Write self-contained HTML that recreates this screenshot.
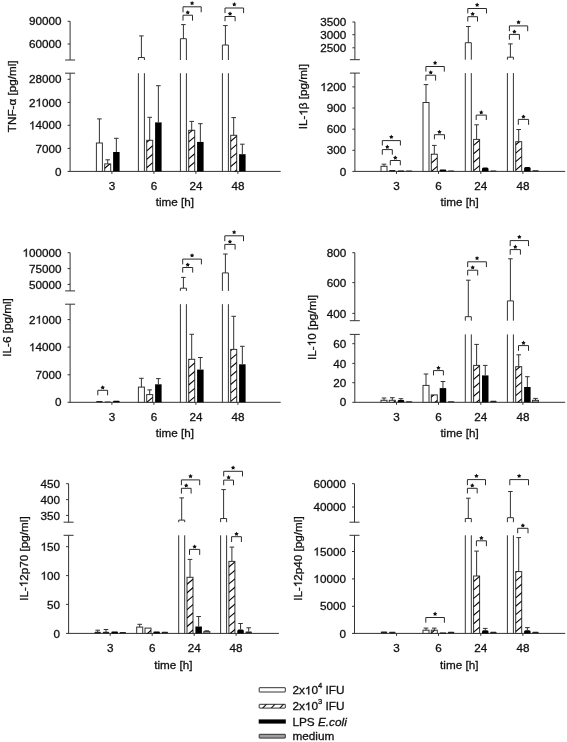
<!DOCTYPE html>
<html><head><meta charset="utf-8"><style>
html,body{margin:0;padding:0;background:#fff;overflow:hidden;width:567px;height:742px;}
svg{display:block;will-change:transform;font-family:"Liberation Sans",sans-serif;fill:#111;}
text{fill:#111;stroke:#111;stroke-width:0.3px;}
</style></head><body>
<svg width="567" height="742" viewBox="0 0 567 742">
<rect width="567" height="742" fill="#fff"/>
<line x1="70.10" y1="21.30" x2="70.10" y2="60.00" stroke="#333" stroke-width="1"/>
<line x1="70.10" y1="73.20" x2="70.10" y2="171.90" stroke="#333" stroke-width="1"/>
<line x1="65.10" y1="60.00" x2="75.10" y2="60.00" stroke="#333" stroke-width="1"/>
<line x1="65.10" y1="73.20" x2="75.10" y2="73.20" stroke="#333" stroke-width="1"/>
<line x1="70.10" y1="171.40" x2="280.70" y2="171.40" stroke="#333" stroke-width="1"/>
<line x1="67.60" y1="21.30" x2="70.10" y2="21.30" stroke="#333" stroke-width="1"/>
<text id="t1" x="61.50" y="25.40" text-anchor="end"  font-size="11.7">90000</text>
<line x1="67.60" y1="44.00" x2="70.10" y2="44.00" stroke="#333" stroke-width="1"/>
<text id="t2" x="61.50" y="48.10" text-anchor="end"  font-size="11.7">60000</text>
<line x1="67.60" y1="79.30" x2="70.10" y2="79.30" stroke="#333" stroke-width="1"/>
<text id="t3" x="61.50" y="83.40" text-anchor="end"  font-size="11.7">28000</text>
<line x1="67.60" y1="102.40" x2="70.10" y2="102.40" stroke="#333" stroke-width="1"/>
<text id="t4" x="61.50" y="106.50" text-anchor="end"  font-size="11.7">2 000</text>
<path d="M762,0H582V1102C539,1063 482,1024 410,982C340,943 276,911 221,892V1059C321,1105 410,1159 485,1224C561,1289 614,1352 645,1409H762Z" transform="translate(35.48,106.50) scale(0.00571,-0.00571)" fill="#111" stroke="#111" stroke-width="0.3" vector-effect="non-scaling-stroke"/>
<line x1="67.60" y1="125.30" x2="70.10" y2="125.30" stroke="#333" stroke-width="1"/>
<text id="t5" x="61.50" y="129.40" text-anchor="end"  font-size="11.7"> 4000</text>
<path d="M762,0H582V1102C539,1063 482,1024 410,982C340,943 276,911 221,892V1059C321,1105 410,1159 485,1224C561,1289 614,1352 645,1409H762Z" transform="translate(28.98,129.40) scale(0.00571,-0.00571)" fill="#111" stroke="#111" stroke-width="0.3" vector-effect="non-scaling-stroke"/>
<line x1="67.60" y1="148.40" x2="70.10" y2="148.40" stroke="#333" stroke-width="1"/>
<text id="t6" x="61.50" y="152.50" text-anchor="end"  font-size="11.7">7000</text>
<line x1="67.60" y1="171.40" x2="70.10" y2="171.40" stroke="#333" stroke-width="1"/>
<text id="t7" x="61.50" y="175.50" text-anchor="end"  font-size="11.7">0</text>
<line x1="111.90" y1="171.40" x2="111.90" y2="173.90" stroke="#333" stroke-width="1"/>
<text id="t8" x="111.90" y="189.60" text-anchor="middle"  font-size="11.7">3</text>
<line x1="153.90" y1="171.40" x2="153.90" y2="173.90" stroke="#333" stroke-width="1"/>
<text id="t9" x="153.90" y="189.60" text-anchor="middle"  font-size="11.7">6</text>
<line x1="195.90" y1="171.40" x2="195.90" y2="173.90" stroke="#333" stroke-width="1"/>
<text id="t10" x="195.90" y="189.60" text-anchor="middle"  font-size="11.7">24</text>
<line x1="237.90" y1="171.40" x2="237.90" y2="173.90" stroke="#333" stroke-width="1"/>
<text id="t11" x="237.90" y="189.60" text-anchor="middle"  font-size="11.7">48</text>
<text id="t12" x="174.85" y="205.70" text-anchor="middle"  font-size="11.7">time [h]</text>
<g transform="translate(16.40,96.35) rotate(-90)">
<text id="t13" x="0" y="0" text-anchor="middle" font-size="11.7">TNF-α [pg/ml]</text>
</g>
<rect x="96.40" y="143.00" width="6.00" height="28.40" fill="#fff" stroke="#333" stroke-width="1"/>
<line x1="99.40" y1="143.00" x2="99.40" y2="118.90" stroke="#333" stroke-width="1"/>
<line x1="97.10" y1="118.90" x2="101.70" y2="118.90" stroke="#333" stroke-width="1"/>
<rect x="104.70" y="163.90" width="6.00" height="7.50" fill="#fff" stroke="#333" stroke-width="1"/>
<clipPath id="c1"><rect x="104.70" y="163.90" width="6.00" height="7.50"/></clipPath>
<g clip-path="url(#c1)">
<line x1="104.40" y1="168.50" x2="111.00" y2="162.90" stroke="#000" stroke-width="1.1"/>
<line x1="104.40" y1="160.05" x2="111.00" y2="154.45" stroke="#000" stroke-width="1.1"/>
</g>
<line x1="107.70" y1="163.90" x2="107.70" y2="159.80" stroke="#333" stroke-width="1"/>
<line x1="105.40" y1="159.80" x2="110.00" y2="159.80" stroke="#333" stroke-width="1"/>
<rect x="113.10" y="152.00" width="6.50" height="19.40" fill="#000"/>
<line x1="116.35" y1="152.00" x2="116.35" y2="138.30" stroke="#333" stroke-width="1"/>
<line x1="114.05" y1="138.30" x2="118.65" y2="138.30" stroke="#333" stroke-width="1"/>
<line x1="138.40" y1="171.40" x2="138.40" y2="73.20" stroke="#333" stroke-width="1"/>
<line x1="144.40" y1="171.40" x2="144.40" y2="73.20" stroke="#333" stroke-width="1"/>
<path d="M138.40,60.00 V57.50 H144.40 V60.00" fill="#fff" stroke="#333" stroke-width="1"/>
<line x1="141.40" y1="57.50" x2="141.40" y2="35.90" stroke="#333" stroke-width="1"/>
<line x1="139.10" y1="35.90" x2="143.70" y2="35.90" stroke="#333" stroke-width="1"/>
<rect x="146.70" y="140.30" width="6.00" height="31.10" fill="#fff" stroke="#333" stroke-width="1"/>
<clipPath id="c2"><rect x="146.70" y="140.30" width="6.00" height="31.10"/></clipPath>
<g clip-path="url(#c2)">
<line x1="146.40" y1="168.00" x2="153.00" y2="162.40" stroke="#000" stroke-width="1.1"/>
<line x1="146.40" y1="159.55" x2="153.00" y2="153.95" stroke="#000" stroke-width="1.1"/>
<line x1="146.40" y1="151.10" x2="153.00" y2="145.50" stroke="#000" stroke-width="1.1"/>
<line x1="146.40" y1="142.65" x2="153.00" y2="137.05" stroke="#000" stroke-width="1.1"/>
</g>
<line x1="149.70" y1="140.30" x2="149.70" y2="117.30" stroke="#333" stroke-width="1"/>
<line x1="147.40" y1="117.30" x2="152.00" y2="117.30" stroke="#333" stroke-width="1"/>
<rect x="155.10" y="122.40" width="6.50" height="49.00" fill="#000"/>
<line x1="158.35" y1="122.40" x2="158.35" y2="85.70" stroke="#333" stroke-width="1"/>
<line x1="156.05" y1="85.70" x2="160.65" y2="85.70" stroke="#333" stroke-width="1"/>
<line x1="180.40" y1="171.40" x2="180.40" y2="73.20" stroke="#333" stroke-width="1"/>
<line x1="186.40" y1="171.40" x2="186.40" y2="73.20" stroke="#333" stroke-width="1"/>
<path d="M180.40,60.00 V38.70 H186.40 V60.00" fill="#fff" stroke="#333" stroke-width="1"/>
<line x1="183.40" y1="38.70" x2="183.40" y2="24.60" stroke="#333" stroke-width="1"/>
<line x1="181.10" y1="24.60" x2="185.70" y2="24.60" stroke="#333" stroke-width="1"/>
<rect x="188.70" y="130.30" width="6.00" height="41.10" fill="#fff" stroke="#333" stroke-width="1"/>
<clipPath id="c3"><rect x="188.70" y="130.30" width="6.00" height="41.10"/></clipPath>
<g clip-path="url(#c3)">
<line x1="188.40" y1="167.50" x2="195.00" y2="161.90" stroke="#000" stroke-width="1.1"/>
<line x1="188.40" y1="159.05" x2="195.00" y2="153.45" stroke="#000" stroke-width="1.1"/>
<line x1="188.40" y1="150.60" x2="195.00" y2="145.00" stroke="#000" stroke-width="1.1"/>
<line x1="188.40" y1="142.15" x2="195.00" y2="136.55" stroke="#000" stroke-width="1.1"/>
<line x1="188.40" y1="133.70" x2="195.00" y2="128.10" stroke="#000" stroke-width="1.1"/>
<line x1="188.40" y1="125.25" x2="195.00" y2="119.65" stroke="#000" stroke-width="1.1"/>
</g>
<line x1="191.70" y1="130.30" x2="191.70" y2="121.40" stroke="#333" stroke-width="1"/>
<line x1="189.40" y1="121.40" x2="194.00" y2="121.40" stroke="#333" stroke-width="1"/>
<rect x="197.10" y="141.90" width="6.50" height="29.50" fill="#000"/>
<line x1="200.35" y1="141.90" x2="200.35" y2="123.70" stroke="#333" stroke-width="1"/>
<line x1="198.05" y1="123.70" x2="202.65" y2="123.70" stroke="#333" stroke-width="1"/>
<line x1="222.40" y1="171.40" x2="222.40" y2="73.20" stroke="#333" stroke-width="1"/>
<line x1="228.40" y1="171.40" x2="228.40" y2="73.20" stroke="#333" stroke-width="1"/>
<path d="M222.40,60.00 V45.00 H228.40 V60.00" fill="#fff" stroke="#333" stroke-width="1"/>
<line x1="225.40" y1="45.00" x2="225.40" y2="25.60" stroke="#333" stroke-width="1"/>
<line x1="223.10" y1="25.60" x2="227.70" y2="25.60" stroke="#333" stroke-width="1"/>
<rect x="230.70" y="135.30" width="6.00" height="36.10" fill="#fff" stroke="#333" stroke-width="1"/>
<clipPath id="c4"><rect x="230.70" y="135.30" width="6.00" height="36.10"/></clipPath>
<g clip-path="url(#c4)">
<line x1="230.40" y1="175.30" x2="237.00" y2="169.70" stroke="#000" stroke-width="1.1"/>
<line x1="230.40" y1="166.85" x2="237.00" y2="161.25" stroke="#000" stroke-width="1.1"/>
<line x1="230.40" y1="158.40" x2="237.00" y2="152.80" stroke="#000" stroke-width="1.1"/>
<line x1="230.40" y1="149.95" x2="237.00" y2="144.35" stroke="#000" stroke-width="1.1"/>
<line x1="230.40" y1="141.50" x2="237.00" y2="135.90" stroke="#000" stroke-width="1.1"/>
<line x1="230.40" y1="133.05" x2="237.00" y2="127.45" stroke="#000" stroke-width="1.1"/>
</g>
<line x1="233.70" y1="135.30" x2="233.70" y2="117.60" stroke="#333" stroke-width="1"/>
<line x1="231.40" y1="117.60" x2="236.00" y2="117.60" stroke="#333" stroke-width="1"/>
<rect x="239.10" y="154.20" width="6.50" height="17.20" fill="#000"/>
<line x1="242.35" y1="154.20" x2="242.35" y2="144.20" stroke="#333" stroke-width="1"/>
<line x1="240.05" y1="144.20" x2="244.65" y2="144.20" stroke="#333" stroke-width="1"/>
<path d="M183.00,20.60 V15.20 H192.50 V20.60" fill="none" stroke="#2a2a2a" stroke-width="1"/>
<polygon points="187.75,10.20 188.49,11.48 189.94,11.79 188.95,12.89 189.10,14.36 187.75,13.77 186.40,14.36 186.55,12.89 185.56,11.79 187.01,11.48" fill="#111"/>
<path d="M183.00,12.30 V6.80 H201.20 V12.30" fill="none" stroke="#2a2a2a" stroke-width="1"/>
<polygon points="192.10,0.90 192.84,2.18 194.29,2.49 193.30,3.59 193.45,5.06 192.10,4.46 190.75,5.06 190.90,3.59 189.91,2.49 191.36,2.18" fill="#111"/>
<path d="M225.00,21.20 V16.50 H235.10 V21.20" fill="none" stroke="#2a2a2a" stroke-width="1"/>
<polygon points="230.05,11.50 230.79,12.78 232.24,13.09 231.25,14.19 231.40,15.66 230.05,15.07 228.70,15.66 228.85,14.19 227.86,13.09 229.31,12.78" fill="#111"/>
<path d="M225.00,13.10 V8.00 H243.60 V13.10" fill="none" stroke="#2a2a2a" stroke-width="1"/>
<polygon points="234.30,2.10 235.04,3.38 236.49,3.69 235.50,4.79 235.65,6.26 234.30,5.67 232.95,6.26 233.10,4.79 232.11,3.69 233.56,3.38" fill="#111"/>
<line x1="354.90" y1="22.00" x2="354.90" y2="59.70" stroke="#333" stroke-width="1"/>
<line x1="354.90" y1="73.10" x2="354.90" y2="171.90" stroke="#333" stroke-width="1"/>
<line x1="349.90" y1="59.70" x2="359.90" y2="59.70" stroke="#333" stroke-width="1"/>
<line x1="349.90" y1="73.10" x2="359.90" y2="73.10" stroke="#333" stroke-width="1"/>
<line x1="354.90" y1="171.40" x2="565.20" y2="171.40" stroke="#333" stroke-width="1"/>
<line x1="352.40" y1="22.00" x2="354.90" y2="22.00" stroke="#333" stroke-width="1"/>
<text id="t14" x="346.30" y="26.10" text-anchor="end"  font-size="11.7">3500</text>
<line x1="352.40" y1="34.70" x2="354.90" y2="34.70" stroke="#333" stroke-width="1"/>
<text id="t15" x="346.30" y="38.80" text-anchor="end"  font-size="11.7">3000</text>
<line x1="352.40" y1="47.80" x2="354.90" y2="47.80" stroke="#333" stroke-width="1"/>
<text id="t16" x="346.30" y="51.90" text-anchor="end"  font-size="11.7">2500</text>
<line x1="352.40" y1="86.90" x2="354.90" y2="86.90" stroke="#333" stroke-width="1"/>
<text id="t17" x="346.30" y="91.00" text-anchor="end"  font-size="11.7"> 200</text>
<path d="M762,0H582V1102C539,1063 482,1024 410,982C340,943 276,911 221,892V1059C321,1105 410,1159 485,1224C561,1289 614,1352 645,1409H762Z" transform="translate(320.28,91.00) scale(0.00571,-0.00571)" fill="#111" stroke="#111" stroke-width="0.3" vector-effect="non-scaling-stroke"/>
<line x1="352.40" y1="108.00" x2="354.90" y2="108.00" stroke="#333" stroke-width="1"/>
<text id="t18" x="346.30" y="112.10" text-anchor="end"  font-size="11.7">900</text>
<line x1="352.40" y1="129.20" x2="354.90" y2="129.20" stroke="#333" stroke-width="1"/>
<text id="t19" x="346.30" y="133.30" text-anchor="end"  font-size="11.7">600</text>
<line x1="352.40" y1="150.30" x2="354.90" y2="150.30" stroke="#333" stroke-width="1"/>
<text id="t20" x="346.30" y="154.40" text-anchor="end"  font-size="11.7">300</text>
<line x1="352.40" y1="171.40" x2="354.90" y2="171.40" stroke="#333" stroke-width="1"/>
<text id="t21" x="346.30" y="175.50" text-anchor="end"  font-size="11.7">0</text>
<line x1="396.50" y1="171.40" x2="396.50" y2="173.90" stroke="#333" stroke-width="1"/>
<text id="t22" x="396.50" y="189.60" text-anchor="middle"  font-size="11.7">3</text>
<line x1="438.50" y1="171.40" x2="438.50" y2="173.90" stroke="#333" stroke-width="1"/>
<text id="t23" x="438.50" y="189.60" text-anchor="middle"  font-size="11.7">6</text>
<line x1="480.80" y1="171.40" x2="480.80" y2="173.90" stroke="#333" stroke-width="1"/>
<text id="t24" x="480.80" y="189.60" text-anchor="middle"  font-size="11.7">24</text>
<line x1="522.90" y1="171.40" x2="522.90" y2="173.90" stroke="#333" stroke-width="1"/>
<text id="t25" x="522.90" y="189.60" text-anchor="middle"  font-size="11.7">48</text>
<text id="t26" x="459.65" y="205.60" text-anchor="middle"  font-size="11.7">time [h]</text>
<g transform="translate(307.40,96.70) rotate(-90)">
<text id="t27" x="0" y="0" text-anchor="middle" font-size="11.7">IL- β [pg/ml]</text>
<path d="M762,0H582V1102C539,1063 482,1024 410,982C340,943 276,911 221,892V1059C321,1105 410,1159 485,1224C561,1289 614,1352 645,1409H762Z" transform="translate(-18.97,0.00) scale(0.00571,-0.00571)" fill="#111" stroke="#111" stroke-width="0.3" vector-effect="non-scaling-stroke"/>
</g>
<rect x="381.00" y="166.30" width="6.00" height="5.10" fill="#fff" stroke="#333" stroke-width="1"/>
<line x1="384.00" y1="166.30" x2="384.00" y2="164.20" stroke="#333" stroke-width="1"/>
<line x1="381.70" y1="164.20" x2="386.30" y2="164.20" stroke="#333" stroke-width="1"/>
<rect x="389.10" y="170.10" width="6.40" height="1.30" rx="0.8" fill="#222"/>
<path d="M397.70,171.40 V171.00 Q397.70,170.60 398.10,170.60 H403.80 Q404.20,170.60 404.20,171.00 V171.40 Z" fill="#000"/>
<rect x="405.90" y="170.60" width="6.40" height="0.80" rx="0.8" fill="#222"/>
<rect x="423.00" y="102.50" width="6.00" height="68.90" fill="#fff" stroke="#333" stroke-width="1"/>
<line x1="426.00" y1="102.50" x2="426.00" y2="84.60" stroke="#333" stroke-width="1"/>
<line x1="423.70" y1="84.60" x2="428.30" y2="84.60" stroke="#333" stroke-width="1"/>
<rect x="431.30" y="154.20" width="6.00" height="17.20" fill="#fff" stroke="#333" stroke-width="1"/>
<clipPath id="c5"><rect x="431.30" y="154.20" width="6.00" height="17.20"/></clipPath>
<g clip-path="url(#c5)">
<line x1="431.00" y1="171.75" x2="437.60" y2="166.15" stroke="#000" stroke-width="1.1"/>
<line x1="431.00" y1="163.30" x2="437.60" y2="157.70" stroke="#000" stroke-width="1.1"/>
<line x1="431.00" y1="154.85" x2="437.60" y2="149.25" stroke="#000" stroke-width="1.1"/>
</g>
<line x1="434.30" y1="154.20" x2="434.30" y2="145.40" stroke="#333" stroke-width="1"/>
<line x1="432.00" y1="145.40" x2="436.60" y2="145.40" stroke="#333" stroke-width="1"/>
<path d="M439.70,171.40 V170.45 Q439.70,169.50 440.65,169.50 H445.25 Q446.20,169.50 446.20,170.45 V171.40 Z" fill="#000"/>
<rect x="447.90" y="170.60" width="6.40" height="0.80" rx="0.8" fill="#222"/>
<line x1="465.30" y1="171.40" x2="465.30" y2="73.10" stroke="#333" stroke-width="1"/>
<line x1="471.30" y1="171.40" x2="471.30" y2="73.10" stroke="#333" stroke-width="1"/>
<path d="M465.30,59.70 V42.70 H471.30 V59.70" fill="#fff" stroke="#333" stroke-width="1"/>
<line x1="468.30" y1="42.70" x2="468.30" y2="26.50" stroke="#333" stroke-width="1"/>
<line x1="466.00" y1="26.50" x2="470.60" y2="26.50" stroke="#333" stroke-width="1"/>
<rect x="473.60" y="139.40" width="6.00" height="32.00" fill="#fff" stroke="#333" stroke-width="1"/>
<clipPath id="c6"><rect x="473.60" y="139.40" width="6.00" height="32.00"/></clipPath>
<g clip-path="url(#c6)">
<line x1="473.30" y1="170.95" x2="479.90" y2="165.35" stroke="#000" stroke-width="1.1"/>
<line x1="473.30" y1="162.50" x2="479.90" y2="156.90" stroke="#000" stroke-width="1.1"/>
<line x1="473.30" y1="154.05" x2="479.90" y2="148.45" stroke="#000" stroke-width="1.1"/>
<line x1="473.30" y1="145.60" x2="479.90" y2="140.00" stroke="#000" stroke-width="1.1"/>
<line x1="473.30" y1="137.15" x2="479.90" y2="131.55" stroke="#000" stroke-width="1.1"/>
</g>
<line x1="476.60" y1="139.40" x2="476.60" y2="124.80" stroke="#333" stroke-width="1"/>
<line x1="474.30" y1="124.80" x2="478.90" y2="124.80" stroke="#333" stroke-width="1"/>
<path d="M482.00,171.40 V169.00 Q482.00,167.50 483.50,167.50 H487.00 Q488.50,167.50 488.50,169.00 V171.40 Z" fill="#000"/>
<rect x="490.20" y="170.60" width="6.40" height="0.80" rx="0.8" fill="#222"/>
<line x1="507.40" y1="171.40" x2="507.40" y2="73.10" stroke="#333" stroke-width="1"/>
<line x1="513.40" y1="171.40" x2="513.40" y2="73.10" stroke="#333" stroke-width="1"/>
<path d="M507.40,59.70 V57.20 H513.40 V59.70" fill="#fff" stroke="#333" stroke-width="1"/>
<line x1="510.40" y1="57.20" x2="510.40" y2="43.90" stroke="#333" stroke-width="1"/>
<line x1="508.10" y1="43.90" x2="512.70" y2="43.90" stroke="#333" stroke-width="1"/>
<rect x="515.70" y="141.70" width="6.00" height="29.70" fill="#fff" stroke="#333" stroke-width="1"/>
<clipPath id="c7"><rect x="515.70" y="141.70" width="6.00" height="29.70"/></clipPath>
<g clip-path="url(#c7)">
<line x1="515.40" y1="170.35" x2="522.00" y2="164.75" stroke="#000" stroke-width="1.1"/>
<line x1="515.40" y1="161.90" x2="522.00" y2="156.30" stroke="#000" stroke-width="1.1"/>
<line x1="515.40" y1="153.45" x2="522.00" y2="147.85" stroke="#000" stroke-width="1.1"/>
<line x1="515.40" y1="145.00" x2="522.00" y2="139.40" stroke="#000" stroke-width="1.1"/>
<line x1="515.40" y1="136.55" x2="522.00" y2="130.95" stroke="#000" stroke-width="1.1"/>
</g>
<line x1="518.70" y1="141.70" x2="518.70" y2="129.50" stroke="#333" stroke-width="1"/>
<line x1="516.40" y1="129.50" x2="521.00" y2="129.50" stroke="#333" stroke-width="1"/>
<path d="M524.10,171.40 V168.50 Q524.10,167.00 525.60,167.00 H529.10 Q530.60,167.00 530.60,168.50 V171.40 Z" fill="#000"/>
<rect x="532.30" y="170.30" width="6.40" height="1.10" rx="0.8" fill="#222"/>
<path d="M382.30,145.50 V140.60 H400.40 V145.50" fill="none" stroke="#2a2a2a" stroke-width="1"/>
<polygon points="391.35,134.70 392.09,135.98 393.54,136.29 392.55,137.39 392.70,138.86 391.35,138.26 390.00,138.86 390.15,137.39 389.16,136.29 390.61,135.98" fill="#111"/>
<path d="M382.30,154.70 V149.60 H392.30 V154.70" fill="none" stroke="#2a2a2a" stroke-width="1"/>
<polygon points="387.30,144.60 388.04,145.88 389.49,146.19 388.50,147.29 388.65,148.76 387.30,148.16 385.95,148.76 386.10,147.29 385.11,146.19 386.56,145.88" fill="#111"/>
<path d="M390.30,165.30 V160.50 H400.30 V165.30" fill="none" stroke="#2a2a2a" stroke-width="1"/>
<polygon points="395.30,155.50 396.04,156.78 397.49,157.09 396.50,158.19 396.65,159.66 395.30,159.06 393.95,159.66 394.10,158.19 393.11,157.09 394.56,156.78" fill="#111"/>
<path d="M425.90,80.60 V75.20 H435.60 V80.60" fill="none" stroke="#2a2a2a" stroke-width="1"/>
<polygon points="430.75,70.20 431.49,71.48 432.94,71.79 431.95,72.89 432.10,74.36 430.75,73.77 429.40,74.36 429.55,72.89 428.56,71.79 430.01,71.48" fill="#111"/>
<path d="M425.90,71.60 V66.50 H444.30 V71.60" fill="none" stroke="#2a2a2a" stroke-width="1"/>
<polygon points="435.10,60.60 435.84,61.88 437.29,62.19 436.30,63.29 436.45,64.76 435.10,64.16 433.75,64.76 433.90,63.29 432.91,62.19 434.36,61.88" fill="#111"/>
<path d="M434.40,139.30 V134.70 H444.50 V139.30" fill="none" stroke="#2a2a2a" stroke-width="1"/>
<polygon points="439.45,129.70 440.19,130.98 441.64,131.29 440.65,132.39 440.80,133.86 439.45,133.26 438.10,133.86 438.25,132.39 437.26,131.29 438.71,130.98" fill="#111"/>
<path d="M467.80,21.50 V16.70 H477.50 V21.50" fill="none" stroke="#2a2a2a" stroke-width="1"/>
<polygon points="472.65,11.70 473.39,12.98 474.84,13.29 473.85,14.39 474.00,15.86 472.65,15.27 471.30,15.86 471.45,14.39 470.46,13.29 471.91,12.98" fill="#111"/>
<path d="M467.80,13.40 V8.50 H486.50 V13.40" fill="none" stroke="#2a2a2a" stroke-width="1"/>
<polygon points="477.15,2.60 477.89,3.88 479.34,4.19 478.35,5.29 478.50,6.76 477.15,6.17 475.80,6.76 475.95,5.29 474.96,4.19 476.41,3.88" fill="#111"/>
<path d="M476.20,120.00 V115.10 H486.30 V120.00" fill="none" stroke="#2a2a2a" stroke-width="1"/>
<polygon points="481.25,110.10 481.99,111.38 483.44,111.69 482.45,112.79 482.60,114.26 481.25,113.66 479.90,114.26 480.05,112.79 479.06,111.69 480.51,111.38" fill="#111"/>
<path d="M509.40,39.70 V34.40 H519.40 V39.70" fill="none" stroke="#2a2a2a" stroke-width="1"/>
<polygon points="514.40,29.40 515.14,30.68 516.59,30.99 515.60,32.09 515.75,33.56 514.40,32.96 513.05,33.56 513.20,32.09 512.21,30.99 513.66,30.68" fill="#111"/>
<path d="M509.40,31.20 V25.90 H527.70 V31.20" fill="none" stroke="#2a2a2a" stroke-width="1"/>
<polygon points="518.55,20.00 519.29,21.28 520.74,21.59 519.75,22.69 519.90,24.16 518.55,23.56 517.20,24.16 517.35,22.69 516.36,21.59 517.81,21.28" fill="#111"/>
<path d="M518.30,124.80 V119.40 H528.60 V124.80" fill="none" stroke="#2a2a2a" stroke-width="1"/>
<polygon points="523.45,114.40 524.19,115.68 525.64,115.99 524.65,117.09 524.80,118.56 523.45,117.97 522.10,118.56 522.25,117.09 521.26,115.99 522.71,115.68" fill="#111"/>
<line x1="70.10" y1="252.70" x2="70.10" y2="290.90" stroke="#333" stroke-width="1"/>
<line x1="70.10" y1="304.20" x2="70.10" y2="402.80" stroke="#333" stroke-width="1"/>
<line x1="65.10" y1="290.90" x2="75.10" y2="290.90" stroke="#333" stroke-width="1"/>
<line x1="65.10" y1="304.20" x2="75.10" y2="304.20" stroke="#333" stroke-width="1"/>
<line x1="70.10" y1="402.30" x2="280.70" y2="402.30" stroke="#333" stroke-width="1"/>
<line x1="67.60" y1="252.70" x2="70.10" y2="252.70" stroke="#333" stroke-width="1"/>
<text id="t28" x="61.50" y="256.80" text-anchor="end"  font-size="11.7"> 00000</text>
<path d="M762,0H582V1102C539,1063 482,1024 410,982C340,943 276,911 221,892V1059C321,1105 410,1159 485,1224C561,1289 614,1352 645,1409H762Z" transform="translate(22.48,256.80) scale(0.00571,-0.00571)" fill="#111" stroke="#111" stroke-width="0.3" vector-effect="non-scaling-stroke"/>
<line x1="67.60" y1="268.60" x2="70.10" y2="268.60" stroke="#333" stroke-width="1"/>
<text id="t29" x="61.50" y="272.70" text-anchor="end"  font-size="11.7">75000</text>
<line x1="67.60" y1="284.40" x2="70.10" y2="284.40" stroke="#333" stroke-width="1"/>
<text id="t30" x="61.50" y="288.50" text-anchor="end"  font-size="11.7">50000</text>
<line x1="67.60" y1="319.60" x2="70.10" y2="319.60" stroke="#333" stroke-width="1"/>
<text id="t31" x="61.50" y="323.70" text-anchor="end"  font-size="11.7">2 000</text>
<path d="M762,0H582V1102C539,1063 482,1024 410,982C340,943 276,911 221,892V1059C321,1105 410,1159 485,1224C561,1289 614,1352 645,1409H762Z" transform="translate(35.48,323.70) scale(0.00571,-0.00571)" fill="#111" stroke="#111" stroke-width="0.3" vector-effect="non-scaling-stroke"/>
<line x1="67.60" y1="347.10" x2="70.10" y2="347.10" stroke="#333" stroke-width="1"/>
<text id="t32" x="61.50" y="351.20" text-anchor="end"  font-size="11.7"> 4000</text>
<path d="M762,0H582V1102C539,1063 482,1024 410,982C340,943 276,911 221,892V1059C321,1105 410,1159 485,1224C561,1289 614,1352 645,1409H762Z" transform="translate(28.98,351.20) scale(0.00571,-0.00571)" fill="#111" stroke="#111" stroke-width="0.3" vector-effect="non-scaling-stroke"/>
<line x1="67.60" y1="374.80" x2="70.10" y2="374.80" stroke="#333" stroke-width="1"/>
<text id="t33" x="61.50" y="378.90" text-anchor="end"  font-size="11.7">7000</text>
<line x1="67.60" y1="402.30" x2="70.10" y2="402.30" stroke="#333" stroke-width="1"/>
<text id="t34" x="61.50" y="406.40" text-anchor="end"  font-size="11.7">0</text>
<line x1="111.90" y1="402.30" x2="111.90" y2="404.80" stroke="#333" stroke-width="1"/>
<text id="t35" x="111.90" y="420.50" text-anchor="middle"  font-size="11.7">3</text>
<line x1="153.90" y1="402.30" x2="153.90" y2="404.80" stroke="#333" stroke-width="1"/>
<text id="t36" x="153.90" y="420.50" text-anchor="middle"  font-size="11.7">6</text>
<line x1="195.90" y1="402.30" x2="195.90" y2="404.80" stroke="#333" stroke-width="1"/>
<text id="t37" x="195.90" y="420.50" text-anchor="middle"  font-size="11.7">24</text>
<line x1="237.90" y1="402.30" x2="237.90" y2="404.80" stroke="#333" stroke-width="1"/>
<text id="t38" x="237.90" y="420.50" text-anchor="middle"  font-size="11.7">48</text>
<text id="t39" x="174.85" y="437.30" text-anchor="middle"  font-size="11.7">time [h]</text>
<g transform="translate(10.50,327.50) rotate(-90)">
<text id="t40" x="0" y="0" text-anchor="middle" font-size="11.7">IL-6 [pg/ml]</text>
</g>
<rect x="96.20" y="401.00" width="6.40" height="1.30" rx="0.8" fill="#222"/>
<rect x="104.50" y="401.50" width="6.40" height="0.80" rx="0.8" fill="#222"/>
<path d="M113.10,402.30 V401.55 Q113.10,400.80 113.85,400.80 H118.85 Q119.60,400.80 119.60,401.55 V402.30 Z" fill="#000"/>
<rect x="138.40" y="387.10" width="6.00" height="15.20" fill="#fff" stroke="#333" stroke-width="1"/>
<line x1="141.40" y1="387.10" x2="141.40" y2="378.30" stroke="#333" stroke-width="1"/>
<line x1="139.10" y1="378.30" x2="143.70" y2="378.30" stroke="#333" stroke-width="1"/>
<rect x="146.70" y="394.60" width="6.00" height="7.70" fill="#fff" stroke="#333" stroke-width="1"/>
<clipPath id="c8"><rect x="146.70" y="394.60" width="6.00" height="7.70"/></clipPath>
<g clip-path="url(#c8)">
<line x1="146.40" y1="402.65" x2="153.00" y2="397.05" stroke="#000" stroke-width="1.1"/>
<line x1="146.40" y1="394.20" x2="153.00" y2="388.60" stroke="#000" stroke-width="1.1"/>
</g>
<line x1="149.70" y1="394.60" x2="149.70" y2="389.90" stroke="#333" stroke-width="1"/>
<line x1="147.40" y1="389.90" x2="152.00" y2="389.90" stroke="#333" stroke-width="1"/>
<rect x="155.10" y="384.30" width="6.50" height="18.00" fill="#000"/>
<line x1="158.35" y1="384.30" x2="158.35" y2="378.60" stroke="#333" stroke-width="1"/>
<line x1="156.05" y1="378.60" x2="160.65" y2="378.60" stroke="#333" stroke-width="1"/>
<line x1="180.40" y1="402.30" x2="180.40" y2="304.20" stroke="#333" stroke-width="1"/>
<line x1="186.40" y1="402.30" x2="186.40" y2="304.20" stroke="#333" stroke-width="1"/>
<path d="M180.40,290.90 V288.20 H186.40 V290.90" fill="#fff" stroke="#333" stroke-width="1"/>
<line x1="183.40" y1="288.20" x2="183.40" y2="277.40" stroke="#333" stroke-width="1"/>
<line x1="181.10" y1="277.40" x2="185.70" y2="277.40" stroke="#333" stroke-width="1"/>
<rect x="188.70" y="359.30" width="6.00" height="43.00" fill="#fff" stroke="#333" stroke-width="1"/>
<clipPath id="c9"><rect x="188.70" y="359.30" width="6.00" height="43.00"/></clipPath>
<g clip-path="url(#c9)">
<line x1="188.40" y1="402.15" x2="195.00" y2="396.55" stroke="#000" stroke-width="1.1"/>
<line x1="188.40" y1="393.70" x2="195.00" y2="388.10" stroke="#000" stroke-width="1.1"/>
<line x1="188.40" y1="385.25" x2="195.00" y2="379.65" stroke="#000" stroke-width="1.1"/>
<line x1="188.40" y1="376.80" x2="195.00" y2="371.20" stroke="#000" stroke-width="1.1"/>
<line x1="188.40" y1="368.35" x2="195.00" y2="362.75" stroke="#000" stroke-width="1.1"/>
<line x1="188.40" y1="359.90" x2="195.00" y2="354.30" stroke="#000" stroke-width="1.1"/>
</g>
<line x1="191.70" y1="359.30" x2="191.70" y2="334.30" stroke="#333" stroke-width="1"/>
<line x1="189.40" y1="334.30" x2="194.00" y2="334.30" stroke="#333" stroke-width="1"/>
<rect x="197.10" y="369.60" width="6.50" height="32.70" fill="#000"/>
<line x1="200.35" y1="369.60" x2="200.35" y2="357.50" stroke="#333" stroke-width="1"/>
<line x1="198.05" y1="357.50" x2="202.65" y2="357.50" stroke="#333" stroke-width="1"/>
<line x1="222.40" y1="402.30" x2="222.40" y2="304.20" stroke="#333" stroke-width="1"/>
<line x1="228.40" y1="402.30" x2="228.40" y2="304.20" stroke="#333" stroke-width="1"/>
<path d="M222.40,290.90 V272.90 H228.40 V290.90" fill="#fff" stroke="#333" stroke-width="1"/>
<line x1="225.40" y1="272.90" x2="225.40" y2="254.00" stroke="#333" stroke-width="1"/>
<line x1="223.10" y1="254.00" x2="227.70" y2="254.00" stroke="#333" stroke-width="1"/>
<rect x="230.70" y="349.40" width="6.00" height="52.90" fill="#fff" stroke="#333" stroke-width="1"/>
<clipPath id="c10"><rect x="230.70" y="349.40" width="6.00" height="52.90"/></clipPath>
<g clip-path="url(#c10)">
<line x1="230.40" y1="401.65" x2="237.00" y2="396.05" stroke="#000" stroke-width="1.1"/>
<line x1="230.40" y1="393.20" x2="237.00" y2="387.60" stroke="#000" stroke-width="1.1"/>
<line x1="230.40" y1="384.75" x2="237.00" y2="379.15" stroke="#000" stroke-width="1.1"/>
<line x1="230.40" y1="376.30" x2="237.00" y2="370.70" stroke="#000" stroke-width="1.1"/>
<line x1="230.40" y1="367.85" x2="237.00" y2="362.25" stroke="#000" stroke-width="1.1"/>
<line x1="230.40" y1="359.40" x2="237.00" y2="353.80" stroke="#000" stroke-width="1.1"/>
<line x1="230.40" y1="350.95" x2="237.00" y2="345.35" stroke="#000" stroke-width="1.1"/>
</g>
<line x1="233.70" y1="349.40" x2="233.70" y2="316.30" stroke="#333" stroke-width="1"/>
<line x1="231.40" y1="316.30" x2="236.00" y2="316.30" stroke="#333" stroke-width="1"/>
<rect x="239.10" y="364.30" width="6.50" height="38.00" fill="#000"/>
<line x1="242.35" y1="364.30" x2="242.35" y2="346.30" stroke="#333" stroke-width="1"/>
<line x1="240.05" y1="346.30" x2="244.65" y2="346.30" stroke="#333" stroke-width="1"/>
<path d="M97.80,395.30 V390.30 H107.60 V395.30" fill="none" stroke="#2a2a2a" stroke-width="1"/>
<polygon points="102.70,385.30 103.44,386.58 104.89,386.89 103.90,387.99 104.05,389.46 102.70,388.87 101.35,389.46 101.50,387.99 100.51,386.89 101.96,386.58" fill="#111"/>
<path d="M182.70,272.60 V267.50 H192.70 V272.60" fill="none" stroke="#2a2a2a" stroke-width="1"/>
<polygon points="187.70,262.50 188.44,263.78 189.89,264.09 188.90,265.19 189.05,266.66 187.70,266.06 186.35,266.66 186.50,265.19 185.51,264.09 186.96,263.78" fill="#111"/>
<path d="M182.70,264.40 V259.10 H201.40 V264.40" fill="none" stroke="#2a2a2a" stroke-width="1"/>
<polygon points="192.05,253.20 192.79,254.48 194.24,254.79 193.25,255.89 193.40,257.36 192.05,256.77 190.70,257.36 190.85,255.89 189.86,254.79 191.31,254.48" fill="#111"/>
<path d="M224.80,249.60 V244.40 H235.10 V249.60" fill="none" stroke="#2a2a2a" stroke-width="1"/>
<polygon points="229.95,239.40 230.69,240.68 232.14,240.99 231.15,242.09 231.30,243.56 229.95,242.97 228.60,243.56 228.75,242.09 227.76,240.99 229.21,240.68" fill="#111"/>
<path d="M224.80,241.20 V235.80 H243.50 V241.20" fill="none" stroke="#2a2a2a" stroke-width="1"/>
<polygon points="234.15,229.90 234.89,231.18 236.34,231.49 235.35,232.59 235.50,234.06 234.15,233.47 232.80,234.06 232.95,232.59 231.96,231.49 233.41,231.18" fill="#111"/>
<line x1="354.80" y1="252.70" x2="354.80" y2="320.70" stroke="#333" stroke-width="1"/>
<line x1="354.80" y1="334.40" x2="354.80" y2="402.80" stroke="#333" stroke-width="1"/>
<line x1="349.80" y1="320.70" x2="359.80" y2="320.70" stroke="#333" stroke-width="1"/>
<line x1="349.80" y1="334.40" x2="359.80" y2="334.40" stroke="#333" stroke-width="1"/>
<line x1="354.80" y1="402.30" x2="565.20" y2="402.30" stroke="#333" stroke-width="1"/>
<line x1="352.30" y1="252.70" x2="354.80" y2="252.70" stroke="#333" stroke-width="1"/>
<text id="t41" x="346.20" y="256.80" text-anchor="end"  font-size="11.7">800</text>
<line x1="352.30" y1="282.60" x2="354.80" y2="282.60" stroke="#333" stroke-width="1"/>
<text id="t42" x="346.20" y="286.70" text-anchor="end"  font-size="11.7">600</text>
<line x1="352.30" y1="313.40" x2="354.80" y2="313.40" stroke="#333" stroke-width="1"/>
<text id="t43" x="346.20" y="317.50" text-anchor="end"  font-size="11.7">400</text>
<line x1="352.30" y1="343.70" x2="354.80" y2="343.70" stroke="#333" stroke-width="1"/>
<text id="t44" x="346.20" y="347.80" text-anchor="end"  font-size="11.7">60</text>
<line x1="352.30" y1="363.40" x2="354.80" y2="363.40" stroke="#333" stroke-width="1"/>
<text id="t45" x="346.20" y="367.50" text-anchor="end"  font-size="11.7">40</text>
<line x1="352.30" y1="382.70" x2="354.80" y2="382.70" stroke="#333" stroke-width="1"/>
<text id="t46" x="346.20" y="386.80" text-anchor="end"  font-size="11.7">20</text>
<line x1="352.30" y1="402.30" x2="354.80" y2="402.30" stroke="#333" stroke-width="1"/>
<text id="t47" x="346.20" y="406.40" text-anchor="end"  font-size="11.7">0</text>
<line x1="396.50" y1="402.30" x2="396.50" y2="404.80" stroke="#333" stroke-width="1"/>
<text id="t48" x="396.50" y="420.50" text-anchor="middle"  font-size="11.7">3</text>
<line x1="438.50" y1="402.30" x2="438.50" y2="404.80" stroke="#333" stroke-width="1"/>
<text id="t49" x="438.50" y="420.50" text-anchor="middle"  font-size="11.7">6</text>
<line x1="480.80" y1="402.30" x2="480.80" y2="404.80" stroke="#333" stroke-width="1"/>
<text id="t50" x="480.80" y="420.50" text-anchor="middle"  font-size="11.7">24</text>
<line x1="522.90" y1="402.30" x2="522.90" y2="404.80" stroke="#333" stroke-width="1"/>
<text id="t51" x="522.90" y="420.50" text-anchor="middle"  font-size="11.7">48</text>
<text id="t52" x="459.55" y="437.20" text-anchor="middle"  font-size="11.7">time [h]</text>
<g transform="translate(315.70,327.50) rotate(-90)">
<text id="t53" x="0" y="0" text-anchor="middle" font-size="11.7">IL- 0 [pg/ml]</text>
<path d="M762,0H582V1102C539,1063 482,1024 410,982C340,943 276,911 221,892V1059C321,1105 410,1159 485,1224C561,1289 614,1352 645,1409H762Z" transform="translate(-18.86,0.00) scale(0.00571,-0.00571)" fill="#111" stroke="#111" stroke-width="0.3" vector-effect="non-scaling-stroke"/>
</g>
<rect x="381.00" y="400.30" width="6.00" height="2.00" fill="#fff" stroke="#333" stroke-width="1"/>
<line x1="384.00" y1="400.30" x2="384.00" y2="398.00" stroke="#333" stroke-width="1"/>
<line x1="381.70" y1="398.00" x2="386.30" y2="398.00" stroke="#333" stroke-width="1"/>
<rect x="389.30" y="400.30" width="6.00" height="2.00" fill="#fff" stroke="#333" stroke-width="1"/>
<clipPath id="c11"><rect x="389.30" y="400.30" width="6.00" height="2.00"/></clipPath>
<g clip-path="url(#c11)">
<line x1="389.00" y1="406.25" x2="395.60" y2="400.65" stroke="#000" stroke-width="1.1"/>
<line x1="389.00" y1="397.80" x2="395.60" y2="392.20" stroke="#000" stroke-width="1.1"/>
</g>
<line x1="392.30" y1="400.30" x2="392.30" y2="397.70" stroke="#333" stroke-width="1"/>
<line x1="390.00" y1="397.70" x2="394.60" y2="397.70" stroke="#333" stroke-width="1"/>
<path d="M397.70,402.30 V401.20 Q397.70,400.10 398.80,400.10 H403.10 Q404.20,400.10 404.20,401.20 V402.30 Z" fill="#000"/>
<line x1="400.95" y1="400.10" x2="400.95" y2="398.70" stroke="#333" stroke-width="1"/>
<line x1="398.65" y1="398.70" x2="403.25" y2="398.70" stroke="#333" stroke-width="1"/>
<rect x="405.90" y="401.20" width="6.40" height="1.10" rx="0.8" fill="#222"/>
<rect x="423.00" y="385.40" width="6.00" height="16.90" fill="#fff" stroke="#333" stroke-width="1"/>
<line x1="426.00" y1="385.40" x2="426.00" y2="374.00" stroke="#333" stroke-width="1"/>
<line x1="423.70" y1="374.00" x2="428.30" y2="374.00" stroke="#333" stroke-width="1"/>
<rect x="431.30" y="394.90" width="6.00" height="7.40" fill="#fff" stroke="#333" stroke-width="1"/>
<clipPath id="c12"><rect x="431.30" y="394.90" width="6.00" height="7.40"/></clipPath>
<g clip-path="url(#c12)">
<line x1="431.00" y1="405.75" x2="437.60" y2="400.15" stroke="#000" stroke-width="1.1"/>
<line x1="431.00" y1="397.30" x2="437.60" y2="391.70" stroke="#000" stroke-width="1.1"/>
</g>
<rect x="439.70" y="388.10" width="6.50" height="14.20" fill="#000"/>
<line x1="442.95" y1="388.10" x2="442.95" y2="381.50" stroke="#333" stroke-width="1"/>
<line x1="440.65" y1="381.50" x2="445.25" y2="381.50" stroke="#333" stroke-width="1"/>
<rect x="447.90" y="401.20" width="6.40" height="1.10" rx="0.8" fill="#222"/>
<line x1="465.30" y1="402.30" x2="465.30" y2="334.40" stroke="#333" stroke-width="1"/>
<line x1="471.30" y1="402.30" x2="471.30" y2="334.40" stroke="#333" stroke-width="1"/>
<path d="M465.30,320.70 V316.70 H471.30 V320.70" fill="#fff" stroke="#333" stroke-width="1"/>
<line x1="468.30" y1="316.70" x2="468.30" y2="280.20" stroke="#333" stroke-width="1"/>
<line x1="466.00" y1="280.20" x2="470.60" y2="280.20" stroke="#333" stroke-width="1"/>
<rect x="473.60" y="365.40" width="6.00" height="36.90" fill="#fff" stroke="#333" stroke-width="1"/>
<clipPath id="c13"><rect x="473.60" y="365.40" width="6.00" height="36.90"/></clipPath>
<g clip-path="url(#c13)">
<line x1="473.30" y1="404.95" x2="479.90" y2="399.35" stroke="#000" stroke-width="1.1"/>
<line x1="473.30" y1="396.50" x2="479.90" y2="390.90" stroke="#000" stroke-width="1.1"/>
<line x1="473.30" y1="388.05" x2="479.90" y2="382.45" stroke="#000" stroke-width="1.1"/>
<line x1="473.30" y1="379.60" x2="479.90" y2="374.00" stroke="#000" stroke-width="1.1"/>
<line x1="473.30" y1="371.15" x2="479.90" y2="365.55" stroke="#000" stroke-width="1.1"/>
<line x1="473.30" y1="362.70" x2="479.90" y2="357.10" stroke="#000" stroke-width="1.1"/>
</g>
<line x1="476.60" y1="365.40" x2="476.60" y2="344.40" stroke="#333" stroke-width="1"/>
<line x1="474.30" y1="344.40" x2="478.90" y2="344.40" stroke="#333" stroke-width="1"/>
<rect x="482.00" y="375.40" width="6.50" height="26.90" fill="#000"/>
<line x1="485.25" y1="375.40" x2="485.25" y2="365.40" stroke="#333" stroke-width="1"/>
<line x1="482.95" y1="365.40" x2="487.55" y2="365.40" stroke="#333" stroke-width="1"/>
<rect x="490.20" y="400.70" width="6.40" height="1.60" rx="0.8" fill="#222"/>
<line x1="507.40" y1="402.30" x2="507.40" y2="334.40" stroke="#333" stroke-width="1"/>
<line x1="513.40" y1="402.30" x2="513.40" y2="334.40" stroke="#333" stroke-width="1"/>
<path d="M507.40,320.70 V300.90 H513.40 V320.70" fill="#fff" stroke="#333" stroke-width="1"/>
<line x1="510.40" y1="300.90" x2="510.40" y2="258.80" stroke="#333" stroke-width="1"/>
<line x1="508.10" y1="258.80" x2="512.70" y2="258.80" stroke="#333" stroke-width="1"/>
<rect x="515.70" y="366.70" width="6.00" height="35.60" fill="#fff" stroke="#333" stroke-width="1"/>
<clipPath id="c14"><rect x="515.70" y="366.70" width="6.00" height="35.60"/></clipPath>
<g clip-path="url(#c14)">
<line x1="515.40" y1="404.35" x2="522.00" y2="398.75" stroke="#000" stroke-width="1.1"/>
<line x1="515.40" y1="395.90" x2="522.00" y2="390.30" stroke="#000" stroke-width="1.1"/>
<line x1="515.40" y1="387.45" x2="522.00" y2="381.85" stroke="#000" stroke-width="1.1"/>
<line x1="515.40" y1="379.00" x2="522.00" y2="373.40" stroke="#000" stroke-width="1.1"/>
<line x1="515.40" y1="370.55" x2="522.00" y2="364.95" stroke="#000" stroke-width="1.1"/>
<line x1="515.40" y1="362.10" x2="522.00" y2="356.50" stroke="#000" stroke-width="1.1"/>
</g>
<line x1="518.70" y1="366.70" x2="518.70" y2="354.80" stroke="#333" stroke-width="1"/>
<line x1="516.40" y1="354.80" x2="521.00" y2="354.80" stroke="#333" stroke-width="1"/>
<rect x="524.10" y="387.00" width="6.50" height="15.30" fill="#000"/>
<line x1="527.35" y1="387.00" x2="527.35" y2="376.70" stroke="#333" stroke-width="1"/>
<line x1="525.05" y1="376.70" x2="529.65" y2="376.70" stroke="#333" stroke-width="1"/>
<rect x="532.50" y="400.30" width="6.00" height="2.00" fill="#9e9e9e" stroke="#333" stroke-width="1"/>
<line x1="535.50" y1="400.30" x2="535.50" y2="398.40" stroke="#333" stroke-width="1"/>
<line x1="533.20" y1="398.40" x2="537.80" y2="398.40" stroke="#333" stroke-width="1"/>
<path d="M433.50,375.40 V370.60 H443.40 V375.40" fill="none" stroke="#2a2a2a" stroke-width="1"/>
<polygon points="438.45,365.60 439.19,366.88 440.64,367.19 439.65,368.29 439.80,369.76 438.45,369.17 437.10,369.76 437.25,368.29 436.26,367.19 437.71,366.88" fill="#111"/>
<path d="M467.70,275.50 V270.20 H477.70 V275.50" fill="none" stroke="#2a2a2a" stroke-width="1"/>
<polygon points="472.70,265.20 473.44,266.48 474.89,266.79 473.90,267.89 474.05,269.36 472.70,268.76 471.35,269.36 471.50,267.89 470.51,266.79 471.96,266.48" fill="#111"/>
<path d="M467.70,267.10 V261.80 H486.40 V267.10" fill="none" stroke="#2a2a2a" stroke-width="1"/>
<polygon points="477.05,255.90 477.79,257.18 479.24,257.49 478.25,258.59 478.40,260.06 477.05,259.46 475.70,260.06 475.85,258.59 474.86,257.49 476.31,257.18" fill="#111"/>
<path d="M510.20,254.70 V249.60 H520.40 V254.70" fill="none" stroke="#2a2a2a" stroke-width="1"/>
<polygon points="515.30,244.60 516.04,245.88 517.49,246.19 516.50,247.29 516.65,248.76 515.30,248.16 513.95,248.76 514.10,247.29 513.11,246.19 514.56,245.88" fill="#111"/>
<path d="M510.20,246.10 V240.60 H528.50 V246.10" fill="none" stroke="#2a2a2a" stroke-width="1"/>
<polygon points="519.35,234.70 520.09,235.98 521.54,236.29 520.55,237.39 520.70,238.86 519.35,238.26 518.00,238.86 518.15,237.39 517.16,236.29 518.61,235.98" fill="#111"/>
<path d="M518.50,350.80 V345.60 H528.50 V350.80" fill="none" stroke="#2a2a2a" stroke-width="1"/>
<polygon points="523.50,340.60 524.24,341.88 525.69,342.19 524.70,343.29 524.85,344.76 523.50,344.17 522.15,344.76 522.30,343.29 521.31,342.19 522.76,341.88" fill="#111"/>
<line x1="68.60" y1="483.70" x2="68.60" y2="522.20" stroke="#333" stroke-width="1"/>
<line x1="68.60" y1="535.30" x2="68.60" y2="633.90" stroke="#333" stroke-width="1"/>
<line x1="63.60" y1="522.20" x2="73.60" y2="522.20" stroke="#333" stroke-width="1"/>
<line x1="63.60" y1="535.30" x2="73.60" y2="535.30" stroke="#333" stroke-width="1"/>
<line x1="68.60" y1="633.40" x2="278.90" y2="633.40" stroke="#333" stroke-width="1"/>
<line x1="66.10" y1="483.70" x2="68.60" y2="483.70" stroke="#333" stroke-width="1"/>
<text id="t54" x="60.00" y="487.80" text-anchor="end"  font-size="11.7">450</text>
<line x1="66.10" y1="499.60" x2="68.60" y2="499.60" stroke="#333" stroke-width="1"/>
<text id="t55" x="60.00" y="503.70" text-anchor="end"  font-size="11.7">400</text>
<line x1="66.10" y1="515.40" x2="68.60" y2="515.40" stroke="#333" stroke-width="1"/>
<text id="t56" x="60.00" y="519.50" text-anchor="end"  font-size="11.7">350</text>
<line x1="66.10" y1="546.70" x2="68.60" y2="546.70" stroke="#333" stroke-width="1"/>
<text id="t57" x="60.00" y="550.80" text-anchor="end"  font-size="11.7"> 50</text>
<path d="M762,0H582V1102C539,1063 482,1024 410,982C340,943 276,911 221,892V1059C321,1105 410,1159 485,1224C561,1289 614,1352 645,1409H762Z" transform="translate(40.48,550.80) scale(0.00571,-0.00571)" fill="#111" stroke="#111" stroke-width="0.3" vector-effect="non-scaling-stroke"/>
<line x1="66.10" y1="575.60" x2="68.60" y2="575.60" stroke="#333" stroke-width="1"/>
<text id="t58" x="60.00" y="579.70" text-anchor="end"  font-size="11.7"> 00</text>
<path d="M762,0H582V1102C539,1063 482,1024 410,982C340,943 276,911 221,892V1059C321,1105 410,1159 485,1224C561,1289 614,1352 645,1409H762Z" transform="translate(40.48,579.70) scale(0.00571,-0.00571)" fill="#111" stroke="#111" stroke-width="0.3" vector-effect="non-scaling-stroke"/>
<line x1="66.10" y1="604.40" x2="68.60" y2="604.40" stroke="#333" stroke-width="1"/>
<text id="t59" x="60.00" y="608.50" text-anchor="end"  font-size="11.7">50</text>
<line x1="66.10" y1="633.40" x2="68.60" y2="633.40" stroke="#333" stroke-width="1"/>
<text id="t60" x="60.00" y="637.50" text-anchor="end"  font-size="11.7">0</text>
<line x1="110.20" y1="633.40" x2="110.20" y2="635.90" stroke="#333" stroke-width="1"/>
<text id="t61" x="110.20" y="651.60" text-anchor="middle"  font-size="11.7">3</text>
<line x1="152.20" y1="633.40" x2="152.20" y2="635.90" stroke="#333" stroke-width="1"/>
<text id="t62" x="152.20" y="651.60" text-anchor="middle"  font-size="11.7">6</text>
<line x1="194.20" y1="633.40" x2="194.20" y2="635.90" stroke="#333" stroke-width="1"/>
<text id="t63" x="194.20" y="651.60" text-anchor="middle"  font-size="11.7">24</text>
<line x1="236.10" y1="633.40" x2="236.10" y2="635.90" stroke="#333" stroke-width="1"/>
<text id="t64" x="236.10" y="651.60" text-anchor="middle"  font-size="11.7">48</text>
<text id="t65" x="173.35" y="668.70" text-anchor="middle"  font-size="11.7">time [h]</text>
<g transform="translate(27.60,558.55) rotate(-90)">
<text id="t66" x="0" y="0" text-anchor="middle" font-size="11.7">IL- 2p70 [pg/ml]</text>
<path d="M762,0H582V1102C539,1063 482,1024 410,982C340,943 276,911 221,892V1059C321,1105 410,1159 485,1224C561,1289 614,1352 645,1409H762Z" transform="translate(-28.61,0.00) scale(0.00571,-0.00571)" fill="#111" stroke="#111" stroke-width="0.3" vector-effect="non-scaling-stroke"/>
</g>
<rect x="94.50" y="631.70" width="6.40" height="1.70" rx="0.8" fill="#222"/>
<line x1="97.70" y1="632.00" x2="97.70" y2="630.20" stroke="#333" stroke-width="1"/>
<line x1="95.40" y1="630.20" x2="100.00" y2="630.20" stroke="#333" stroke-width="1"/>
<rect x="102.80" y="631.70" width="6.40" height="1.70" rx="0.8" fill="#222"/>
<line x1="106.00" y1="632.00" x2="106.00" y2="629.50" stroke="#333" stroke-width="1"/>
<line x1="103.70" y1="629.50" x2="108.30" y2="629.50" stroke="#333" stroke-width="1"/>
<path d="M111.40,633.40 V632.50 Q111.40,631.60 112.30,631.60 H117.00 Q117.90,631.60 117.90,632.50 V633.40 Z" fill="#000"/>
<rect x="119.60" y="632.10" width="6.40" height="1.30" rx="0.8" fill="#222"/>
<rect x="136.70" y="627.10" width="6.00" height="6.30" fill="#fff" stroke="#333" stroke-width="1"/>
<line x1="139.70" y1="627.10" x2="139.70" y2="624.30" stroke="#333" stroke-width="1"/>
<line x1="137.40" y1="624.30" x2="142.00" y2="624.30" stroke="#333" stroke-width="1"/>
<rect x="145.00" y="628.10" width="6.00" height="5.30" fill="#fff" stroke="#333" stroke-width="1"/>
<clipPath id="c15"><rect x="145.00" y="628.10" width="6.00" height="5.30"/></clipPath>
<g clip-path="url(#c15)">
<line x1="144.70" y1="635.75" x2="151.30" y2="630.15" stroke="#000" stroke-width="1.1"/>
<line x1="144.70" y1="627.30" x2="151.30" y2="621.70" stroke="#000" stroke-width="1.1"/>
</g>
<path d="M153.40,633.40 V632.40 Q153.40,631.40 154.40,631.40 H158.90 Q159.90,631.40 159.90,632.40 V633.40 Z" fill="#000"/>
<rect x="161.60" y="631.70" width="6.40" height="1.70" rx="0.8" fill="#222"/>
<line x1="178.70" y1="633.40" x2="178.70" y2="535.30" stroke="#333" stroke-width="1"/>
<line x1="184.70" y1="633.40" x2="184.70" y2="535.30" stroke="#333" stroke-width="1"/>
<path d="M178.70,522.20 V520.10 H184.70 V522.20" fill="#fff" stroke="#333" stroke-width="1"/>
<line x1="181.70" y1="520.10" x2="181.70" y2="497.90" stroke="#333" stroke-width="1"/>
<line x1="179.40" y1="497.90" x2="184.00" y2="497.90" stroke="#333" stroke-width="1"/>
<rect x="187.00" y="577.30" width="6.00" height="56.10" fill="#fff" stroke="#333" stroke-width="1"/>
<clipPath id="c16"><rect x="187.00" y="577.30" width="6.00" height="56.10"/></clipPath>
<g clip-path="url(#c16)">
<line x1="186.70" y1="635.25" x2="193.30" y2="629.65" stroke="#000" stroke-width="1.1"/>
<line x1="186.70" y1="626.80" x2="193.30" y2="621.20" stroke="#000" stroke-width="1.1"/>
<line x1="186.70" y1="618.35" x2="193.30" y2="612.75" stroke="#000" stroke-width="1.1"/>
<line x1="186.70" y1="609.90" x2="193.30" y2="604.30" stroke="#000" stroke-width="1.1"/>
<line x1="186.70" y1="601.45" x2="193.30" y2="595.85" stroke="#000" stroke-width="1.1"/>
<line x1="186.70" y1="593.00" x2="193.30" y2="587.40" stroke="#000" stroke-width="1.1"/>
<line x1="186.70" y1="584.55" x2="193.30" y2="578.95" stroke="#000" stroke-width="1.1"/>
<line x1="186.70" y1="576.10" x2="193.30" y2="570.50" stroke="#000" stroke-width="1.1"/>
</g>
<line x1="190.00" y1="577.30" x2="190.00" y2="559.40" stroke="#333" stroke-width="1"/>
<line x1="187.70" y1="559.40" x2="192.30" y2="559.40" stroke="#333" stroke-width="1"/>
<rect x="195.40" y="626.50" width="6.50" height="6.90" fill="#000"/>
<line x1="198.65" y1="626.50" x2="198.65" y2="616.50" stroke="#333" stroke-width="1"/>
<line x1="196.35" y1="616.50" x2="200.95" y2="616.50" stroke="#333" stroke-width="1"/>
<rect x="203.80" y="631.60" width="6.00" height="1.80" fill="#9e9e9e" stroke="#333" stroke-width="1"/>
<line x1="206.80" y1="631.60" x2="206.80" y2="630.80" stroke="#333" stroke-width="1"/>
<line x1="204.50" y1="630.80" x2="209.10" y2="630.80" stroke="#333" stroke-width="1"/>
<line x1="220.60" y1="633.40" x2="220.60" y2="535.30" stroke="#333" stroke-width="1"/>
<line x1="226.60" y1="633.40" x2="226.60" y2="535.30" stroke="#333" stroke-width="1"/>
<path d="M220.60,522.20 V518.50 H226.60 V522.20" fill="#fff" stroke="#333" stroke-width="1"/>
<line x1="223.60" y1="518.50" x2="223.60" y2="489.60" stroke="#333" stroke-width="1"/>
<line x1="221.30" y1="489.60" x2="225.90" y2="489.60" stroke="#333" stroke-width="1"/>
<rect x="228.90" y="561.40" width="6.00" height="72.00" fill="#fff" stroke="#333" stroke-width="1"/>
<clipPath id="c17"><rect x="228.90" y="561.40" width="6.00" height="72.00"/></clipPath>
<g clip-path="url(#c17)">
<line x1="228.60" y1="634.85" x2="235.20" y2="629.25" stroke="#000" stroke-width="1.1"/>
<line x1="228.60" y1="626.40" x2="235.20" y2="620.80" stroke="#000" stroke-width="1.1"/>
<line x1="228.60" y1="617.95" x2="235.20" y2="612.35" stroke="#000" stroke-width="1.1"/>
<line x1="228.60" y1="609.50" x2="235.20" y2="603.90" stroke="#000" stroke-width="1.1"/>
<line x1="228.60" y1="601.05" x2="235.20" y2="595.45" stroke="#000" stroke-width="1.1"/>
<line x1="228.60" y1="592.60" x2="235.20" y2="587.00" stroke="#000" stroke-width="1.1"/>
<line x1="228.60" y1="584.15" x2="235.20" y2="578.55" stroke="#000" stroke-width="1.1"/>
<line x1="228.60" y1="575.70" x2="235.20" y2="570.10" stroke="#000" stroke-width="1.1"/>
<line x1="228.60" y1="567.25" x2="235.20" y2="561.65" stroke="#000" stroke-width="1.1"/>
<line x1="228.60" y1="558.80" x2="235.20" y2="553.20" stroke="#000" stroke-width="1.1"/>
</g>
<line x1="231.90" y1="561.40" x2="231.90" y2="547.10" stroke="#333" stroke-width="1"/>
<line x1="229.60" y1="547.10" x2="234.20" y2="547.10" stroke="#333" stroke-width="1"/>
<path d="M237.30,633.40 V630.90 Q237.30,629.40 238.80,629.40 H242.30 Q243.80,629.40 243.80,630.90 V633.40 Z" fill="#000"/>
<line x1="240.55" y1="629.40" x2="240.55" y2="623.50" stroke="#333" stroke-width="1"/>
<line x1="238.25" y1="623.50" x2="242.85" y2="623.50" stroke="#333" stroke-width="1"/>
<rect x="245.50" y="631.40" width="6.40" height="2.00" rx="0.8" fill="#222"/>
<line x1="248.70" y1="631.70" x2="248.70" y2="627.80" stroke="#333" stroke-width="1"/>
<line x1="246.40" y1="627.80" x2="251.00" y2="627.80" stroke="#333" stroke-width="1"/>
<path d="M181.40,493.60 V488.30 H191.10 V493.60" fill="none" stroke="#2a2a2a" stroke-width="1"/>
<polygon points="186.25,483.30 186.99,484.58 188.44,484.89 187.45,485.99 187.60,487.46 186.25,486.87 184.90,487.46 185.05,485.99 184.06,484.89 185.51,484.58" fill="#111"/>
<path d="M181.40,485.20 V479.90 H199.70 V485.20" fill="none" stroke="#2a2a2a" stroke-width="1"/>
<polygon points="190.55,474.00 191.29,475.28 192.74,475.59 191.75,476.69 191.90,478.16 190.55,477.56 189.20,478.16 189.35,476.69 188.36,475.59 189.81,475.28" fill="#111"/>
<path d="M189.50,554.90 V549.40 H199.70 V554.90" fill="none" stroke="#2a2a2a" stroke-width="1"/>
<polygon points="194.60,544.40 195.34,545.68 196.79,545.99 195.80,547.09 195.95,548.56 194.60,547.96 193.25,548.56 193.40,547.09 192.41,545.99 193.86,545.68" fill="#111"/>
<path d="M223.70,485.20 V480.10 H233.50 V485.20" fill="none" stroke="#2a2a2a" stroke-width="1"/>
<polygon points="228.60,475.10 229.34,476.38 230.79,476.69 229.80,477.79 229.95,479.26 228.60,478.67 227.25,479.26 227.40,477.79 226.41,476.69 227.86,476.38" fill="#111"/>
<path d="M223.70,476.40 V471.30 H242.50 V476.40" fill="none" stroke="#2a2a2a" stroke-width="1"/>
<polygon points="233.10,465.40 233.84,466.68 235.29,466.99 234.30,468.09 234.45,469.56 233.10,468.96 231.75,469.56 231.90,468.09 230.91,466.99 232.36,466.68" fill="#111"/>
<path d="M231.60,542.00 V536.70 H241.40 V542.00" fill="none" stroke="#2a2a2a" stroke-width="1"/>
<polygon points="236.50,531.70 237.24,532.98 238.69,533.29 237.70,534.39 237.85,535.86 236.50,535.26 235.15,535.86 235.30,534.39 234.31,533.29 235.76,532.98" fill="#111"/>
<line x1="354.50" y1="483.70" x2="354.50" y2="522.20" stroke="#333" stroke-width="1"/>
<line x1="354.50" y1="535.30" x2="354.50" y2="633.90" stroke="#333" stroke-width="1"/>
<line x1="349.50" y1="522.20" x2="359.50" y2="522.20" stroke="#333" stroke-width="1"/>
<line x1="349.50" y1="535.30" x2="359.50" y2="535.30" stroke="#333" stroke-width="1"/>
<line x1="354.50" y1="633.40" x2="565.20" y2="633.40" stroke="#333" stroke-width="1"/>
<line x1="352.00" y1="483.70" x2="354.50" y2="483.70" stroke="#333" stroke-width="1"/>
<text id="t67" x="345.90" y="487.80" text-anchor="end"  font-size="11.7">60000</text>
<line x1="352.00" y1="507.00" x2="354.50" y2="507.00" stroke="#333" stroke-width="1"/>
<text id="t68" x="345.90" y="511.10" text-anchor="end"  font-size="11.7">40000</text>
<line x1="352.00" y1="551.50" x2="354.50" y2="551.50" stroke="#333" stroke-width="1"/>
<text id="t69" x="345.90" y="555.60" text-anchor="end"  font-size="11.7"> 5000</text>
<path d="M762,0H582V1102C539,1063 482,1024 410,982C340,943 276,911 221,892V1059C321,1105 410,1159 485,1224C561,1289 614,1352 645,1409H762Z" transform="translate(313.38,555.60) scale(0.00571,-0.00571)" fill="#111" stroke="#111" stroke-width="0.3" vector-effect="non-scaling-stroke"/>
<line x1="352.00" y1="578.90" x2="354.50" y2="578.90" stroke="#333" stroke-width="1"/>
<text id="t70" x="345.90" y="583.00" text-anchor="end"  font-size="11.7"> 0000</text>
<path d="M762,0H582V1102C539,1063 482,1024 410,982C340,943 276,911 221,892V1059C321,1105 410,1159 485,1224C561,1289 614,1352 645,1409H762Z" transform="translate(313.38,583.00) scale(0.00571,-0.00571)" fill="#111" stroke="#111" stroke-width="0.3" vector-effect="non-scaling-stroke"/>
<line x1="352.00" y1="606.30" x2="354.50" y2="606.30" stroke="#333" stroke-width="1"/>
<text id="t71" x="345.90" y="610.40" text-anchor="end"  font-size="11.7">5000</text>
<line x1="352.00" y1="633.40" x2="354.50" y2="633.40" stroke="#333" stroke-width="1"/>
<text id="t72" x="345.90" y="637.50" text-anchor="end"  font-size="11.7">0</text>
<line x1="396.50" y1="633.40" x2="396.50" y2="635.90" stroke="#333" stroke-width="1"/>
<text id="t73" x="396.50" y="651.60" text-anchor="middle"  font-size="11.7">3</text>
<line x1="438.50" y1="633.40" x2="438.50" y2="635.90" stroke="#333" stroke-width="1"/>
<text id="t74" x="438.50" y="651.60" text-anchor="middle"  font-size="11.7">6</text>
<line x1="480.80" y1="633.40" x2="480.80" y2="635.90" stroke="#333" stroke-width="1"/>
<text id="t75" x="480.80" y="651.60" text-anchor="middle"  font-size="11.7">24</text>
<line x1="522.90" y1="633.40" x2="522.90" y2="635.90" stroke="#333" stroke-width="1"/>
<text id="t76" x="522.90" y="651.60" text-anchor="middle"  font-size="11.7">48</text>
<text id="t77" x="459.25" y="668.70" text-anchor="middle"  font-size="11.7">time [h]</text>
<g transform="translate(301.80,558.55) rotate(-90)">
<text id="t78" x="0" y="0" text-anchor="middle" font-size="11.7">IL- 2p40 [pg/ml]</text>
<path d="M762,0H582V1102C539,1063 482,1024 410,982C340,943 276,911 221,892V1059C321,1105 410,1159 485,1224C561,1289 614,1352 645,1409H762Z" transform="translate(-28.61,0.00) scale(0.00571,-0.00571)" fill="#111" stroke="#111" stroke-width="0.3" vector-effect="non-scaling-stroke"/>
</g>
<rect x="380.80" y="631.50" width="6.40" height="1.90" rx="0.8" fill="#222"/>
<rect x="389.10" y="631.70" width="6.40" height="1.70" rx="0.8" fill="#222"/>
<rect x="423.00" y="630.20" width="6.00" height="3.20" fill="#fff" stroke="#333" stroke-width="1"/>
<line x1="426.00" y1="630.20" x2="426.00" y2="628.10" stroke="#333" stroke-width="1"/>
<line x1="423.70" y1="628.10" x2="428.30" y2="628.10" stroke="#333" stroke-width="1"/>
<rect x="431.30" y="630.20" width="6.00" height="3.20" fill="#fff" stroke="#333" stroke-width="1"/>
<clipPath id="c18"><rect x="431.30" y="630.20" width="6.00" height="3.20"/></clipPath>
<g clip-path="url(#c18)">
<line x1="431.00" y1="633.25" x2="437.60" y2="627.65" stroke="#000" stroke-width="1.1"/>
<line x1="431.00" y1="624.80" x2="437.60" y2="619.20" stroke="#000" stroke-width="1.1"/>
</g>
<line x1="434.30" y1="630.20" x2="434.30" y2="628.10" stroke="#333" stroke-width="1"/>
<line x1="432.00" y1="628.10" x2="436.60" y2="628.10" stroke="#333" stroke-width="1"/>
<path d="M439.70,633.40 V632.95 Q439.70,632.50 440.15,632.50 H445.75 Q446.20,632.50 446.20,632.95 V633.40 Z" fill="#000"/>
<rect x="447.90" y="631.70" width="6.40" height="1.70" rx="0.8" fill="#222"/>
<line x1="465.30" y1="633.40" x2="465.30" y2="535.30" stroke="#333" stroke-width="1"/>
<line x1="471.30" y1="633.40" x2="471.30" y2="535.30" stroke="#333" stroke-width="1"/>
<path d="M465.30,522.20 V518.50 H471.30 V522.20" fill="#fff" stroke="#333" stroke-width="1"/>
<line x1="468.30" y1="518.50" x2="468.30" y2="498.20" stroke="#333" stroke-width="1"/>
<line x1="466.00" y1="498.20" x2="470.60" y2="498.20" stroke="#333" stroke-width="1"/>
<rect x="473.60" y="576.00" width="6.00" height="57.40" fill="#fff" stroke="#333" stroke-width="1"/>
<clipPath id="c19"><rect x="473.60" y="576.00" width="6.00" height="57.40"/></clipPath>
<g clip-path="url(#c19)">
<line x1="473.30" y1="632.45" x2="479.90" y2="626.85" stroke="#000" stroke-width="1.1"/>
<line x1="473.30" y1="624.00" x2="479.90" y2="618.40" stroke="#000" stroke-width="1.1"/>
<line x1="473.30" y1="615.55" x2="479.90" y2="609.95" stroke="#000" stroke-width="1.1"/>
<line x1="473.30" y1="607.10" x2="479.90" y2="601.50" stroke="#000" stroke-width="1.1"/>
<line x1="473.30" y1="598.65" x2="479.90" y2="593.05" stroke="#000" stroke-width="1.1"/>
<line x1="473.30" y1="590.20" x2="479.90" y2="584.60" stroke="#000" stroke-width="1.1"/>
<line x1="473.30" y1="581.75" x2="479.90" y2="576.15" stroke="#000" stroke-width="1.1"/>
<line x1="473.30" y1="573.30" x2="479.90" y2="567.70" stroke="#000" stroke-width="1.1"/>
</g>
<line x1="476.60" y1="576.00" x2="476.60" y2="551.10" stroke="#333" stroke-width="1"/>
<line x1="474.30" y1="551.10" x2="478.90" y2="551.10" stroke="#333" stroke-width="1"/>
<path d="M482.00,633.40 V631.80 Q482.00,630.30 483.50,630.30 H487.00 Q488.50,630.30 488.50,631.80 V633.40 Z" fill="#000"/>
<line x1="485.25" y1="630.30" x2="485.25" y2="628.40" stroke="#333" stroke-width="1"/>
<line x1="482.95" y1="628.40" x2="487.55" y2="628.40" stroke="#333" stroke-width="1"/>
<rect x="490.20" y="631.70" width="6.40" height="1.70" rx="0.8" fill="#222"/>
<line x1="507.40" y1="633.40" x2="507.40" y2="535.30" stroke="#333" stroke-width="1"/>
<line x1="513.40" y1="633.40" x2="513.40" y2="535.30" stroke="#333" stroke-width="1"/>
<path d="M507.40,522.20 V517.70 H513.40 V522.20" fill="#fff" stroke="#333" stroke-width="1"/>
<line x1="510.40" y1="517.70" x2="510.40" y2="491.50" stroke="#333" stroke-width="1"/>
<line x1="508.10" y1="491.50" x2="512.70" y2="491.50" stroke="#333" stroke-width="1"/>
<rect x="515.70" y="571.60" width="6.00" height="61.80" fill="#fff" stroke="#333" stroke-width="1"/>
<clipPath id="c20"><rect x="515.70" y="571.60" width="6.00" height="61.80"/></clipPath>
<g clip-path="url(#c20)">
<line x1="515.40" y1="631.85" x2="522.00" y2="626.25" stroke="#000" stroke-width="1.1"/>
<line x1="515.40" y1="623.40" x2="522.00" y2="617.80" stroke="#000" stroke-width="1.1"/>
<line x1="515.40" y1="614.95" x2="522.00" y2="609.35" stroke="#000" stroke-width="1.1"/>
<line x1="515.40" y1="606.50" x2="522.00" y2="600.90" stroke="#000" stroke-width="1.1"/>
<line x1="515.40" y1="598.05" x2="522.00" y2="592.45" stroke="#000" stroke-width="1.1"/>
<line x1="515.40" y1="589.60" x2="522.00" y2="584.00" stroke="#000" stroke-width="1.1"/>
<line x1="515.40" y1="581.15" x2="522.00" y2="575.55" stroke="#000" stroke-width="1.1"/>
<line x1="515.40" y1="572.70" x2="522.00" y2="567.10" stroke="#000" stroke-width="1.1"/>
</g>
<line x1="518.70" y1="571.60" x2="518.70" y2="537.60" stroke="#333" stroke-width="1"/>
<line x1="516.40" y1="537.60" x2="521.00" y2="537.60" stroke="#333" stroke-width="1"/>
<path d="M524.10,633.40 V631.80 Q524.10,630.30 525.60,630.30 H529.10 Q530.60,630.30 530.60,631.80 V633.40 Z" fill="#000"/>
<line x1="527.35" y1="630.30" x2="527.35" y2="627.60" stroke="#333" stroke-width="1"/>
<line x1="525.05" y1="627.60" x2="529.65" y2="627.60" stroke="#333" stroke-width="1"/>
<rect x="532.30" y="631.70" width="6.40" height="1.70" rx="0.8" fill="#222"/>
<path d="M425.80,622.70 V617.50 H444.40 V622.70" fill="none" stroke="#2a2a2a" stroke-width="1"/>
<polygon points="435.10,611.60 435.84,612.88 437.29,613.19 436.30,614.29 436.45,615.76 435.10,615.16 433.75,615.76 433.90,614.29 432.91,613.19 434.36,612.88" fill="#111"/>
<path d="M467.40,493.40 V488.30 H477.20 V493.40" fill="none" stroke="#2a2a2a" stroke-width="1"/>
<polygon points="472.30,483.30 473.04,484.58 474.49,484.89 473.50,485.99 473.65,487.46 472.30,486.87 470.95,487.46 471.10,485.99 470.11,484.89 471.56,484.58" fill="#111"/>
<path d="M467.40,485.20 V479.60 H485.50 V485.20" fill="none" stroke="#2a2a2a" stroke-width="1"/>
<polygon points="476.45,473.70 477.19,474.98 478.64,475.29 477.65,476.39 477.80,477.86 476.45,477.26 475.10,477.86 475.25,476.39 474.26,475.29 475.71,474.98" fill="#111"/>
<path d="M476.40,546.20 V540.80 H486.40 V546.20" fill="none" stroke="#2a2a2a" stroke-width="1"/>
<polygon points="481.40,535.80 482.14,537.08 483.59,537.39 482.60,538.49 482.75,539.96 481.40,539.36 480.05,539.96 480.20,538.49 479.21,537.39 480.66,537.08" fill="#111"/>
<path d="M509.80,485.20 V479.60 H528.50 V485.20" fill="none" stroke="#2a2a2a" stroke-width="1"/>
<polygon points="519.15,473.70 519.89,474.98 521.34,475.29 520.35,476.39 520.50,477.86 519.15,477.26 517.80,477.86 517.95,476.39 516.96,475.29 518.41,474.98" fill="#111"/>
<path d="M517.70,533.30 V528.30 H528.00 V533.30" fill="none" stroke="#2a2a2a" stroke-width="1"/>
<polygon points="522.85,523.30 523.59,524.58 525.04,524.89 524.05,525.99 524.20,527.46 522.85,526.86 521.50,527.46 521.65,525.99 520.66,524.89 522.11,524.58" fill="#111"/>
<rect x="259.20" y="687.70" width="26.10" height="4.30" rx="0.3" fill="#fff" stroke="#333" stroke-width="1"/>
<rect x="259.20" y="704.30" width="26.10" height="3.80" rx="0.3" fill="#fff" stroke="#333" stroke-width="1"/>
<clipPath id="c21"><rect x="259.20" y="704.30" width="26.10" height="3.80"/></clipPath><g clip-path="url(#c21)">
<line x1="253.90" y1="708.40" x2="258.40" y2="703.70" stroke="#111" stroke-width="1.1"/>
<line x1="262.45" y1="708.40" x2="266.95" y2="703.70" stroke="#111" stroke-width="1.1"/>
<line x1="271.00" y1="708.40" x2="275.50" y2="703.70" stroke="#111" stroke-width="1.1"/>
<line x1="279.55" y1="708.40" x2="284.05" y2="703.70" stroke="#111" stroke-width="1.1"/>
</g>
<rect x="258.70" y="719.40" width="27.10" height="4.20" fill="#000"/>
<rect x="259.20" y="734.30" width="26.10" height="3.80" rx="0.3" fill="#9e9e9e" stroke="#333" stroke-width="1"/>
<text id="t79" x="292.4" y="694.4" font-size="11.8">2x 0<tspan font-size="7.6" dy="-6">4</tspan><tspan dy="6"> IFU</tspan></text>
<path d="M762,0H582V1102C539,1063 482,1024 410,982C340,943 276,911 221,892V1059C321,1105 410,1159 485,1224C561,1289 614,1352 645,1409H762Z" transform="translate(304.85,694.40) scale(0.00576,-0.00576)" fill="#111" stroke="#111" stroke-width="0.3" vector-effect="non-scaling-stroke"/>
<text id="t80" x="292.4" y="710.3" font-size="11.8">2x 0<tspan font-size="7.6" dy="-6">3</tspan><tspan dy="6"> IFU</tspan></text>
<path d="M762,0H582V1102C539,1063 482,1024 410,982C340,943 276,911 221,892V1059C321,1105 410,1159 485,1224C561,1289 614,1352 645,1409H762Z" transform="translate(304.85,710.30) scale(0.00576,-0.00576)" fill="#111" stroke="#111" stroke-width="0.3" vector-effect="non-scaling-stroke"/>
<text id="t81" x="292.4" y="725.5" font-size="11.8">LPS <tspan font-style="italic">E.coli</tspan></text>
<text id="t82" x="292.4" y="739.6" font-size="11.8">medium</text>
</svg>
</body></html>
